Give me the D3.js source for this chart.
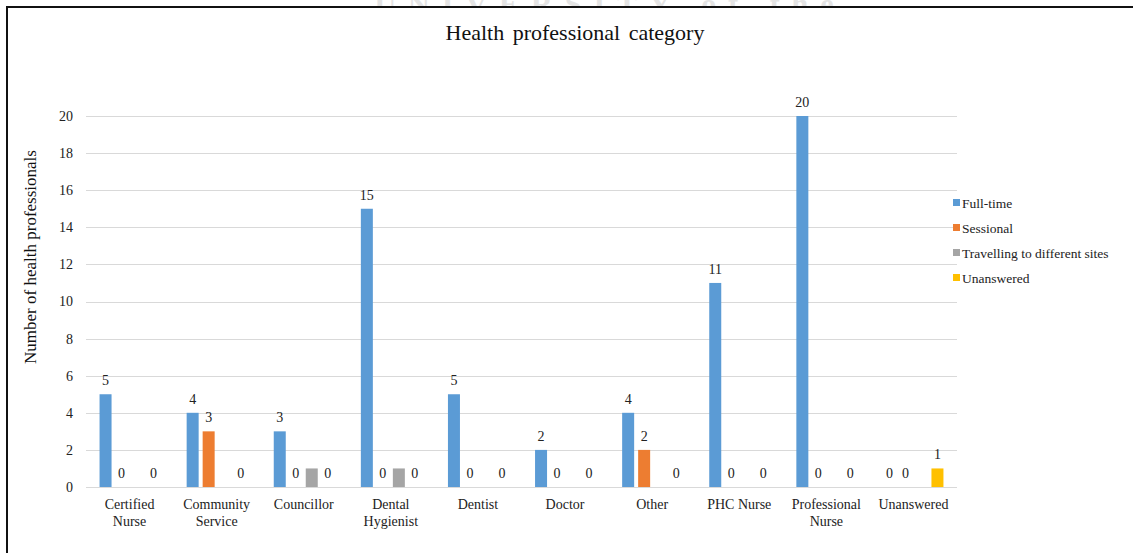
<!DOCTYPE html>
<html>
<head>
<meta charset="utf-8">
<script src="https://cdn.jsdelivr.net/npm/d3@7"></script>
<style>
  html, body { margin: 0; padding: 0; background: #fff; }
  svg { display: block; }
</style>
</head>
<body>
<svg id="chart" width="1133" height="553"></svg>
<script>
// Health professional categories and counts per employment type
const categories = [
  "Certified Nurse", "Community Service", "Councillor", "Dental Hygienist",
  "Dentist", "Doctor", "Other", "PHC Nurse", "Professional Nurse", "Unanswered"
];
const categoryLines = [
  ["Certified", "Nurse"], ["Community", "Service"], ["Councillor"], ["Dental", "Hygienist"],
  ["Dentist"], ["Doctor"], ["Other"], ["PHC Nurse"], ["Professional", "Nurse"], ["Unanswered"]
];
const seriesNames = ["Full-time", "Sessional", "Travelling to different sites", "Unanswered"];
const fullTime   = [5, 4, 3, 15, 5, 2, 4, 11, 20, 0];
const sessional  = [0, 3, 0, 0, 0, 0, 2, 0, 0, 0];
const travelling = [0, 0, 1, 1, 0, 0, 0, 0, 0, 0];
const unanswered = [0, 0, 0, 0, 0, 0, 0, 0, 0, 1];
const seriesValues = [fullTime, sessional, travelling, unanswered];
const seriesLabelled = [true, true, false, true];
const seriesColors = ["#5b9bd5", "#ed7d31", "#a5a5a5", "#ffc000"];
const yTicks = [0, 2, 4, 6, 8, 10, 12, 14, 16, 18, 20];

const svg = d3.select("#chart");
const font = "'Liberation Serif', 'Times New Roman', serif";

// faint watermark clipped at the top edge
svg.append("clipPath").attr("id", "wmclip")
  .append("rect").attr("x", 0).attr("y", 0).attr("width", 1133).attr("height", 6);
svg.append("text")
  .attr("clip-path", "url(#wmclip)")
  .attr("x", 610).attr("y", 14)
  .attr("text-anchor", "middle")
  .attr("font-family", font).attr("font-size", 30).attr("font-weight", "bold")
  .attr("letter-spacing", 12)
  .attr("fill", "#e4e4e4")
  .text("UNIVERSITY of the");

// frame lines (top and left)
svg.append("line").attr("x1", 6).attr("x2", 1133).attr("y1", 7).attr("y2", 7)
  .attr("stroke", "#111").attr("stroke-width", 2);
svg.append("line").attr("x1", 7).attr("x2", 7).attr("y1", 6).attr("y2", 553)
  .attr("stroke", "#111").attr("stroke-width", 2);

const plot = { left: 86, right: 957, top: 116, bottom: 487 };

const x0 = d3.scaleBand().domain(categories).range([plot.left, plot.right]).paddingInner(0).paddingOuter(0);
const x1 = d3.scaleBand().domain(d3.range(seriesNames.length))
  .range([x0.bandwidth() / 2 - 32, x0.bandwidth() / 2 + 32]).paddingInner(0.25).paddingOuter(0.125);
const y = d3.scaleLinear().domain([0, 20]).range([plot.bottom, plot.top]);

// gridlines
svg.append("g")
  .selectAll("line").data(yTicks).join("line")
  .attr("x1", plot.left).attr("x2", plot.right)
  .attr("y1", d => Math.round(y(d)) + 0.5).attr("y2", d => Math.round(y(d)) + 0.5)
  .attr("stroke", "#d9d9d9").attr("stroke-width", 1);

// y axis tick labels
const yAxis = d3.axisLeft(y).tickValues(yTicks).tickSize(0).tickPadding(0);
const yg = svg.append("g").attr("transform", `translate(${plot.left - 13},0)`).call(yAxis);
yg.select(".domain").remove();
yg.selectAll("text").attr("font-family", font).attr("font-size", 14).attr("fill", "#222");

// y axis title
svg.append("text")
  .attr("transform", "translate(36,257) rotate(-90)")
  .attr("text-anchor", "middle")
  .attr("font-family", font).attr("font-size", 17).attr("fill", "#111")
  .text("Number of health professionals");

// title
svg.append("text")
  .attr("x", 575).attr("y", 40)
  .attr("text-anchor", "middle")
  .attr("font-family", font).attr("font-size", 22).attr("fill", "#111")
  .attr("word-spacing", 3)
  .text("Health professional category");

// bars
const groups = svg.append("g").selectAll("g").data(categories).join("g")
  .attr("transform", d => `translate(${x0(d)},0)`);

groups.each(function(cat, ci) {
  const g = d3.select(this);
  seriesValues.forEach((vals, si) => {
    const v = vals[ci];
    if (v > 0) {
      g.append("rect")
        .attr("x", x1(si)).attr("width", x1.bandwidth())
        .attr("y", y(v)).attr("height", y(0) - y(v))
        .attr("fill", seriesColors[si]);
    }
    if (seriesLabelled[si]) {
      g.append("text")
        .attr("x", x1(si) + x1.bandwidth() / 2)
        .attr("y", y(v) - 9)
        .attr("text-anchor", "middle")
        .attr("font-family", font).attr("font-size", 14).attr("fill", "#222")
        .text(v);
    }
  });
});

// category labels
const xg = svg.append("g");
categories.forEach((cat, ci) => {
  const t = xg.append("text")
    .attr("x", x0(cat) + x0.bandwidth() / 2)
    .attr("y", 509)
    .attr("text-anchor", "middle")
    .attr("font-family", font).attr("font-size", 14).attr("fill", "#222");
  categoryLines[ci].forEach((line, li) => {
    t.append("tspan").attr("x", x0(cat) + x0.bandwidth() / 2)
      .attr("dy", li === 0 ? 0 : 17).text(line);
  });
});

// legend
const legend = svg.append("g").attr("transform", "translate(953,203)");
seriesNames.forEach((name, i) => {
  const row = legend.append("g").attr("transform", `translate(0,${i * 25})`);
  row.append("rect").attr("x", 0).attr("y", -4).attr("width", 7).attr("height", 7)
    .attr("fill", seriesColors[i]);
  row.append("text").attr("x", 9).attr("y", 5)
    .attr("font-family", font).attr("font-size", 13.5).attr("fill", "#222")
    .text(name);
});
</script>
</body>
</html>
